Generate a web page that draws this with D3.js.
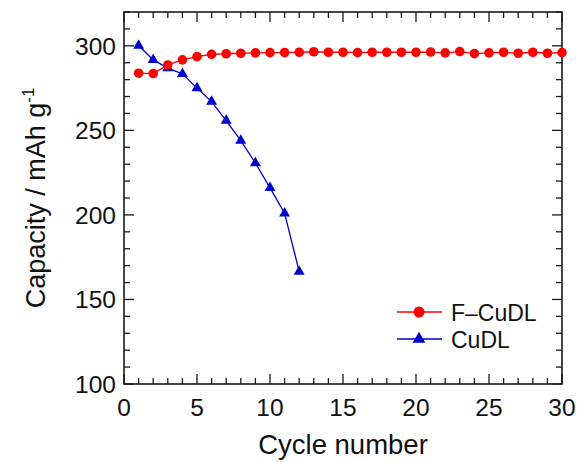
<!DOCTYPE html>
<html>
<head>
<meta charset="utf-8">
<script src="https://cdn.jsdelivr.net/npm/d3@7"></script>
<style>
  body { margin: 0; background: #fff; }
  svg { font-family: "Liberation Sans", Arial, sans-serif; }
</style>
</head>
<body>
<svg id="chart" width="579" height="462"></svg>
<script>
// cycle numbers and capacities (mAh g-1)
var fCycles = d3.range(1, 31);
var fCapacity = [283.8, 283.6, 288.7, 291.7, 293.6, 295.0, 295.3, 295.6, 295.8, 296.0,
                 296.0, 296.2, 296.5, 296.2, 296.2, 296.0, 296.2, 296.2, 296.2, 296.2,
                 296.3, 295.8, 296.6, 295.4, 295.8, 296.2, 295.6, 296.2, 295.6, 296.0];
var cuCycles = [1, 2, 3, 4, 5, 6, 7, 8, 9, 10, 11, 12];
var cuCapacity = [300.2, 291.7, 286.8, 283.4, 275.0, 267.0, 255.8, 243.9, 230.7, 216.0, 201.0, 166.5];
var xTicks = [0, 5, 10, 15, 20, 25, 30];
var yTicks = [100, 150, 200, 250, 300];
var seriesNames = ["F\u2013CuDL", "CuDL"];

var margin = {left: 124, right: 17, top: 12, bottom: 78};
var width = 579, height = 462;
var svg = d3.select("#chart");

var x = d3.scaleLinear().domain([0, 30]).range([margin.left, width - margin.right]);
var y = d3.scaleLinear().domain([100, 320]).range([height - margin.bottom, margin.top]);

var x0 = x.range()[0], x1 = x.range()[1];
var y0 = y.range()[0], y1 = y.range()[1];
var axisColor = "#1a1a1a";

// minor + major ticks, mirrored on all four sides, pointing inward
var ticks = svg.append("g").attr("stroke", axisColor).attr("stroke-width", 1.3);
d3.range(0, 31).forEach(function (v) {
    var len = (v % 5 === 0) ? 10 : 6;
    ticks.append("line").attr("x1", x(v)).attr("x2", x(v)).attr("y1", y0).attr("y2", y0 - len);
    ticks.append("line").attr("x1", x(v)).attr("x2", x(v)).attr("y1", y1).attr("y2", y1 + len);
});
d3.range(100, 321, 10).forEach(function (v) {
    var len = (v % 50 === 0) ? 10 : 6;
    ticks.append("line").attr("x1", x0).attr("x2", x0 + len).attr("y1", y(v)).attr("y2", y(v));
    ticks.append("line").attr("x1", x1).attr("x2", x1 - len).attr("y1", y(v)).attr("y2", y(v));
});

// frame
svg.append("rect")
    .attr("x", x0).attr("y", y1)
    .attr("width", x1 - x0).attr("height", y0 - y1)
    .attr("fill", "none").attr("stroke", axisColor).attr("stroke-width", 1.6);

// tick labels
svg.append("g").selectAll("text").data(xTicks).enter().append("text")
    .attr("x", function (d) { return x(d); })
    .attr("y", y0 + 32)
    .attr("text-anchor", "middle")
    .attr("font-size", 24.5)
    .attr("fill", "#111")
    .text(function (d) { return d; });

svg.append("g").selectAll("text").data(yTicks).enter().append("text")
    .attr("x", x0 - 8)
    .attr("y", function (d) { return y(d) + 9; })
    .attr("text-anchor", "end")
    .attr("font-size", 24.5)
    .attr("fill", "#111")
    .text(function (d) { return d; });

// axis titles
svg.append("text")
    .attr("x", (x0 + x1) / 2)
    .attr("y", 454)
    .attr("text-anchor", "middle")
    .attr("font-size", 27.5)
    .attr("fill", "#111")
    .text("Cycle number");

var yTitle = svg.append("text")
    .attr("transform", "translate(45," + ((y0 + y1) / 2) + ") rotate(-90)")
    .attr("text-anchor", "middle")
    .attr("font-size", 27)
    .attr("fill", "#111");
yTitle.append("tspan").text("Capacity / mAh g");
yTitle.append("tspan").attr("dy", -11).attr("font-size", 17).text("-1");

// series
var line = d3.line()
    .x(function (d) { return x(d[0]); })
    .y(function (d) { return y(d[1]); });

var fData = d3.zip(fCycles, fCapacity);
var cuData = d3.zip(cuCycles, cuCapacity);

var red = "#ff0000", blue = "#0000cc";

svg.append("path").datum(cuData).attr("d", line)
    .attr("fill", "none").attr("stroke", blue).attr("stroke-width", 1.3);
svg.append("path").datum(fData).attr("d", line)
    .attr("fill", "none").attr("stroke", red).attr("stroke-width", 1.3);

var tri = d3.symbol().type(d3.symbolTriangle).size(52);

svg.append("g").selectAll("path").data(cuData).enter().append("path")
    .attr("d", tri)
    .attr("transform", function (d) { return "translate(" + x(d[0]) + "," + y(d[1]) + ")"; })
    .attr("fill", blue);

svg.append("g").selectAll("circle").data(fData).enter().append("circle")
    .attr("cx", function (d) { return x(d[0]); })
    .attr("cy", function (d) { return y(d[1]); })
    .attr("r", 4.8)
    .attr("fill", red);

// legend
var legend = svg.append("g");
var legendY = [312, 339];
[red, blue].forEach(function (c, i) {
    legend.append("line")
        .attr("x1", 397).attr("x2", 442)
        .attr("y1", legendY[i]).attr("y2", legendY[i])
        .attr("stroke", c).attr("stroke-width", 1.3);
    if (i === 0) {
        legend.append("circle").attr("cx", 419).attr("cy", legendY[i]).attr("r", 5.5).attr("fill", c);
    } else {
        legend.append("path").attr("d", d3.symbol().type(d3.symbolTriangle).size(70))
            .attr("transform", "translate(419," + legendY[i] + ")").attr("fill", c);
    }
    legend.append("text")
        .attr("x", 451).attr("y", legendY[i] + 9)
        .attr("font-size", 23)
        .attr("fill", "#111")
        .text(seriesNames[i]);
});
</script>
</body>
</html>
